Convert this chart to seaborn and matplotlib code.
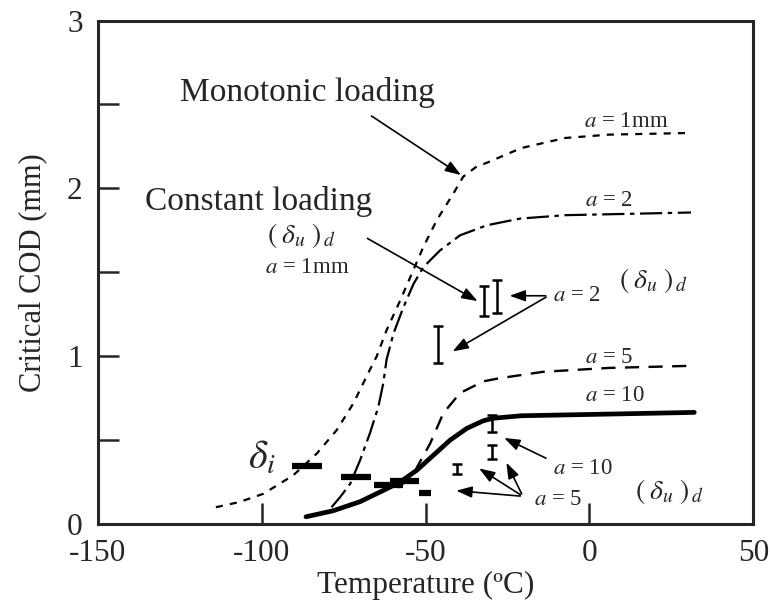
import matplotlib
matplotlib.use("Agg")
import pandas as pd
import matplotlib.pyplot as plt
import seaborn as sns

# Critical COD vs temperature, curves for crack depth a

# monotonic loading curves
mono_t = [-114, -107, -99.5, -90.4, -83.2, -77.1, -72, -68, -64.9, -61.9, -57.8, -54.7, -50.7,
          -46.6, -41.5, -38.5, -34.4, -31.6, -20.8, -7.4, 6, 31]
mono_cod = [0.10, 0.13, 0.18, 0.29, 0.42, 0.56, 0.72, 0.88, 1.0, 1.155, 1.33, 1.47, 1.65,
            1.81, 1.97, 2.07, 2.13, 2.15, 2.24, 2.30, 2.32, 2.33]

a2_t = [-78.7, -76.1, -73, -70, -67, -64.4, -62.9, -61.9, -59.8, -56.8, -53.7, -50.7, -45.6,
        -39.5, -31.3, -21.1, -7.4, 31]
a2_cod = [0.10, 0.16, 0.24, 0.38, 0.54, 0.70, 0.84, 0.98, 1.135, 1.29, 1.43, 1.53, 1.63,
          1.72, 1.78, 1.82, 1.84, 1.856]

a5_t = [-58.5, -55.8, -53.7, -48.6, -44.6, -39.5, -32.4, -27.6, -14.1, 6, 32]
a5_cod = [0.217, 0.256, 0.30, 0.48, 0.66, 0.78, 0.85, 0.868, 0.907, 0.93, 0.943]

a10_t = [-86.5, -78.2, -70, -62.9, -57.8, -52.7, -47.6, -42.5, -37.4, -32.4, -29.4, -20.8, 6, 32]
a10_cod = [0.043, 0.079, 0.133, 0.2, 0.25, 0.32, 0.41, 0.5, 0.57, 0.615, 0.63, 0.645, 0.655, 0.665]

# constant loading (delta_u)_d scatter bands
eb_t = [-32.3, -28.3, -46.1, -29.8, -29.8, -40.3]
eb_mid = [1.33, 1.355, 1.07, 0.60, 0.43, 0.33]
eb_half = [0.09, 0.10, 0.11, 0.05, 0.04, 0.03]

# delta_i values (short thick bars)
di_t = [-86.3, -71.3, -61.3, -56.4, -50.1]
di_cod = [0.343, 0.278, 0.232, 0.256, 0.186]
di_half = [4.6, 4.6, 4.5, 4.4, 1.8]

sns.set_style("ticks")
plt.rcParams["font.family"] = ["Liberation Serif", "DejaVu Serif"]
plt.rcParams["mathtext.fontset"] = "stix"
plt.rcParams["axes.unicode_minus"] = False

fig = plt.figure(figsize=(7.71, 6.03), dpi=100)
ax = fig.add_axes([0.127, 0.131, 0.85, 0.835])

sns.lineplot(x=mono_t, y=mono_cod, ax=ax, color="k", lw=1.6, linestyle=(0, (3.2, 3.2)))
sns.lineplot(x=a2_t, y=a2_cod, ax=ax, color="k", lw=1.6, linestyle=(0, (10, 2.5, 2, 2.5)))
sns.lineplot(x=a5_t, y=a5_cod, ax=ax, color="k", lw=1.7, linestyle=(0, (6, 4)))
sns.lineplot(x=a10_t, y=a10_cod, ax=ax, color="k", lw=3.4, solid_capstyle="round")

ax.errorbar(eb_t, eb_mid, yerr=eb_half, fmt="none", ecolor="k", elinewidth=1.8,
            capsize=3.6, capthick=1.8)
di_l = [t - h for t, h in zip(di_t, di_half)]
di_r = [t + h for t, h in zip(di_t, di_half)]
ax.hlines(di_cod, di_l, di_r, colors="k", lw=4.5)

ax.set_xlim(-150, 50)
ax.set_ylim(0, 3)
ax.set_xticks([-150, -100, -50, 0, 50])
ax.set_yticks([0, 1, 2, 3])
ax.set_yticks([0.5, 1.5, 2.5], minor=True)
ax.tick_params(which="both", direction="in", length=15, width=1.8, labelsize=22.5)
ax.tick_params(axis="x", pad=11)
ax.tick_params(axis="y", pad=11)
for s in ax.spines.values():
    s.set_linewidth(2.2)
ax.set_xlabel("Temperature (ºC)", fontsize=22.5, labelpad=2)
ax.set_ylabel("Critical COD (mm)", fontsize=22, labelpad=14)

arrow = dict(arrowstyle="-|>,head_length=0.95,head_width=0.34", color="k", lw=1.2)
fs = 24
sfs = 16.5
dfs = 20
dud = r"$(\;\delta_u\;)_{\,d}$"
ax.text(-86, 2.57, "Monotonic loading", fontsize=fs, ha="center", va="center")
ax.annotate("", xy=(-38.5, 2.07), xytext=(-67.2, 2.44), arrowprops=arrow)
ax.text(-101, 1.92, "Constant loading", fontsize=fs, ha="center", va="center")
ax.text(-88, 1.72, dud, fontsize=dfs, ha="center", va="center")
ax.text(-86, 1.53, r"$a$ = 1mm", fontsize=sfs, ha="center", va="center")
ax.annotate("", xy=(-33.4, 1.32), xytext=(-68.5, 1.71), arrowprops=arrow)

ax.text(-1.8, 2.40, r"$a$ = 1mm", fontsize=sfs, ha="left", va="center")
ax.text(-1.5, 1.925, r"$a$ = 2", fontsize=sfs, ha="left", va="center")
ax.text(-1.5, 0.99, r"$a$ = 5", fontsize=sfs, ha="left", va="center")
ax.text(-1.5, 0.765, r"$a$ = 10", fontsize=sfs, ha="left", va="center")

ax.text(-11, 1.36, r"$a$ = 2", fontsize=sfs, ha="left", va="center")
ax.text(9, 1.45, dud, fontsize=dfs, ha="left", va="center")
ax.annotate("", xy=(-25.2, 1.36), xytext=(-12.5, 1.36), arrowprops=arrow)
ax.annotate("", xy=(-42.5, 1.02), xytext=(-12.5, 1.36), arrowprops=arrow)

ax.text(-100, 0.385, r"$\delta_i$", fontsize=29, ha="center", va="center")
ax.text(-11, 0.33, r"$a$ = 10", fontsize=sfs, ha="left", va="center")
ax.text(14, 0.195, dud, fontsize=dfs, ha="left", va="center")
ax.annotate("", xy=(-26.8, 0.52), xytext=(-12.5, 0.385), arrowprops=arrow)
ax.text(-17, 0.148, r"$a$ = 5", fontsize=sfs, ha="left", va="center")
for tip in [(-34.4, 0.34), (-25.7, 0.38), (-41.5, 0.20)]:
    ax.annotate("", xy=tip, xytext=(-20.3, 0.165), arrowprops=arrow)

fig.savefig("out.png", dpi=100)
